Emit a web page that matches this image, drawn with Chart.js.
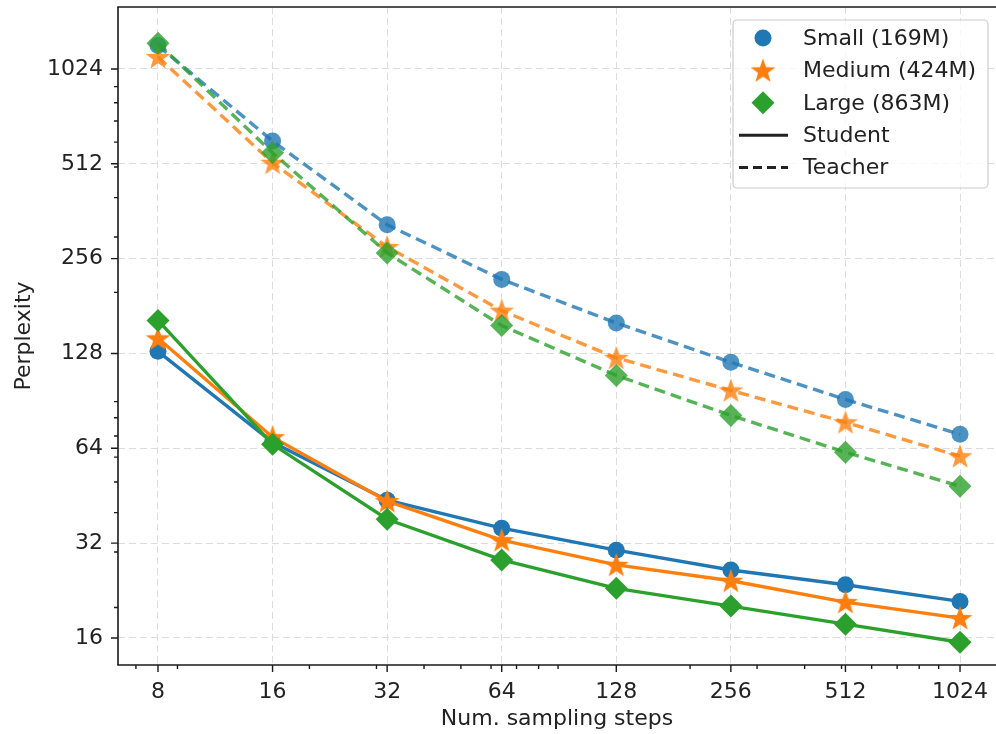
<!DOCTYPE html>
<html>
<head>
<meta charset="utf-8">
<script src="https://cdn.jsdelivr.net/npm/chart.js@4.4.1/dist/chart.umd.min.js"></script>
<style>
  html, body { margin: 0; padding: 0; background: #fff; overflow: hidden; }
  #wrap { width: 996px; height: 734px; position: relative; }
  #wrap canvas { display: block; }
</style>
</head>
<body>
<div id="wrap"><canvas id="perplexityChart"></canvas></div>
<script>
// sampling steps on x, perplexity on y (both log2)
const steps = [8, 16, 32, 64, 128, 256, 512, 1024];
const smallStudent  = [130, 66.9, 43.8, 35.7, 30.4, 26.3, 23.6, 20.9];
const mediumStudent = [143, 69.4, 43.5, 32.7, 27.3, 24.3, 20.8, 18.5];
const largeStudent  = [163, 65.9, 38.1, 28.3, 23.0, 20.2, 17.7, 15.5];
const smallTeacher  = [1215, 605, 328, 220, 160, 120, 91.5, 70.9];
const mediumTeacher = [1118, 516, 279, 175, 124, 97.7, 77.4, 60.4];
const largeTeacher  = [1237, 555, 267, 157, 109, 81.4, 62.2, 48.5];
const yTicks = [16, 32, 64, 128, 256, 512, 1024];
const modelNames = ['Small (169M)', 'Medium (424M)', 'Large (863M)'];
const styleNames = ['Student', 'Teacher'];
const minorSubs = [2, 3, 4, 5, 6, 7, 8, 9];

const FONT = 'DejaVu Sans';
Chart.defaults.font.family = FONT;
Chart.defaults.font.size = 22;
Chart.defaults.color = '#222';

const blue = [31, 119, 180], orange = [255, 127, 14], green = [44, 160, 44];
const rgba = (c, a) => `rgba(${c[0]},${c[1]},${c[2]},${a})`;

// matplotlib-like filled star
const makeStar = (color, r) => {
    const c = document.createElement('canvas');
    const s = Math.ceil(r * 2 + 2);
    c.width = c.height = s;
    const ctx = c.getContext('2d');
    ctx.fillStyle = color;
    ctx.beginPath();
    for (let i = 0; i < 10; i++) {
        const rr = i % 2 ? r * 0.4 : r;
        const a = -Math.PI / 2 + i * Math.PI / 5;
        ctx.lineTo(s / 2 + rr * Math.cos(a), s / 2 + rr * Math.sin(a) + 1);
    }
    ctx.closePath();
    ctx.fill();
    return c;
};

const markers = [
    { style: 'circle', radius: 8.5 },
    { style: null, radius: 13 },
    { style: 'rectRot', radius: 11.5 }
];

const toPoints = (vals) => vals.map((v, i) => ({ x: steps[i], y: v }));

const makeDataset = (vals, color, idx, teacher) => {
    const a = teacher ? 0.8 : 1;
    const m = markers[idx];
    return {
        data: toPoints(vals),
        borderColor: rgba(color, a),
        backgroundColor: rgba(color, a),
        borderWidth: 3.4,
        borderDash: teacher ? [11, 6] : [],
        pointStyle: m.style || makeStar(rgba(color, a), m.radius),
        pointRadius: m.radius,
        pointBorderWidth: 0,
        pointHoverRadius: m.radius,
        order: 2 - idx,
        tension: 0
    };
};

const datasets = [
    makeDataset(smallStudent, blue, 0, false),
    makeDataset(smallTeacher, blue, 0, true),
    makeDataset(mediumStudent, orange, 1, false),
    makeDataset(mediumTeacher, orange, 1, true),
    makeDataset(largeStudent, green, 2, false),
    makeDataset(largeTeacher, green, 2, true)
];

const minorValues = (min, max, majors) => {
    const out = [];
    for (let k = 0; k < 4; k++) {
        minorSubs.forEach(d => {
            const v = d * Math.pow(10, k);
            if (v > min && v < max && !majors.includes(v)) out.push(v);
        });
    }
    return out;
};

const frameAndTicks = {
    id: 'frameAndTicks',
    afterDatasetsDraw(chart) {
        const { ctx, chartArea: ca, scales } = chart;
        const xs = scales.x, ys = scales.y;
        ctx.save();
        ctx.strokeStyle = '#1a1a1a';
        ctx.lineWidth = 1.6;
        ctx.setLineDash([]);
        ctx.beginPath();
        ctx.moveTo(ca.right + 2, ca.top);
        ctx.lineTo(ca.left, ca.top);
        ctx.lineTo(ca.left, ca.bottom);
        ctx.lineTo(ca.right + 2, ca.bottom);
        ctx.stroke();
        ctx.lineWidth = 1.4;
        ctx.beginPath();
        steps.forEach(v => {
            const px = xs.getPixelForValue(v);
            ctx.moveTo(px, ca.bottom); ctx.lineTo(px, ca.bottom + 7);
        });
        minorValues(xs.min, xs.max, steps).forEach(v => {
            const px = xs.getPixelForValue(v);
            ctx.moveTo(px, ca.bottom); ctx.lineTo(px, ca.bottom + 4);
        });
        yTicks.forEach(v => {
            const py = ys.getPixelForValue(v);
            ctx.moveTo(ca.left, py); ctx.lineTo(ca.left - 7, py);
        });
        minorValues(ys.min, ys.max, yTicks).forEach(v => {
            const py = ys.getPixelForValue(v);
            ctx.moveTo(ca.left, py); ctx.lineTo(ca.left - 4, py);
        });
        ctx.stroke();
        ctx.restore();
    }
};

const boxLegend = {
    id: 'boxLegend',
    afterDraw(chart) {
        const { ctx } = chart;
        const bx = 733, by = 20, bw = 255, bh = 168;
        ctx.save();
        ctx.fillStyle = 'rgba(255,255,255,0.8)';
        ctx.strokeStyle = '#cccccc';
        ctx.lineWidth = 1.2;
        ctx.beginPath();
        ctx.roundRect(bx, by, bw, bh, 4);
        ctx.fill();
        ctx.stroke();

        const rowY = (i) => by + 18 + i * 32.4;
        const cols = [blue, orange, green];
        ctx.font = `22px "${FONT}"`;
        ctx.textBaseline = 'middle';
        ctx.textAlign = 'left';
        modelNames.forEach((name, i) => {
            const cx = 763, cy = rowY(i);
            ctx.fillStyle = rgba(cols[i], 1);
            if (i === 0) {
                ctx.beginPath(); ctx.arc(cx, cy, 8.5, 0, Math.PI * 2); ctx.fill();
            } else if (i === 1) {
                const s = makeStar(rgba(cols[i], 1), 13);
                ctx.drawImage(s, cx - s.width / 2, cy - s.height / 2);
            } else {
                ctx.beginPath();
                ctx.moveTo(cx - 11.5, cy); ctx.lineTo(cx, cy - 11.5);
                ctx.lineTo(cx + 11.5, cy); ctx.lineTo(cx, cy + 11.5);
                ctx.closePath(); ctx.fill();
            }
            ctx.fillStyle = '#222';
            ctx.fillText(name, 803, cy + 1);
        });
        styleNames.forEach((name, j) => {
            const cy = rowY(3 + j);
            ctx.strokeStyle = '#222';
            ctx.lineWidth = 3;
            ctx.setLineDash(j ? [9, 5] : []);
            ctx.beginPath(); ctx.moveTo(739, cy); ctx.lineTo(788, cy); ctx.stroke();
            ctx.setLineDash([]);
            ctx.fillStyle = '#222';
            ctx.fillText(name, 803, cy + 1);
        });
        ctx.restore();
    }
};

const perplexityChart = new Chart(document.getElementById('perplexityChart').getContext('2d'), {
    type: 'line',
    data: { datasets },
    plugins: [frameAndTicks, boxLegend],
    options: {
        responsive: true,
        maintainAspectRatio: false,
        animation: false,
        layout: { autoPadding: false, padding: { top: 7, right: 0, left: 0, bottom: 0 } },
        plugins: {
            legend: { display: false },
            tooltip: { enabled: false }
        },
        scales: {
            x: {
                type: 'logarithmic',
                min: 6.281,
                max: 1273,
                afterBuildTicks: (scale) => { scale.ticks = steps.map(v => ({ value: v })); },
                afterFit: (scale) => {
                    scale.height = 69;
                    scale.paddingLeft = 0;
                    scale.paddingRight = 0;
                },
                ticks: {
                    autoSkip: false,
                    maxRotation: 0,
                    padding: 14,
                    callback: (v) => String(v)
                },
                grid: { color: '#dcdcdc', lineWidth: 1, drawTicks: false },
                border: { display: false, dash: [7, 4] },
                title: { display: true, text: 'Num. sampling steps', padding: { top: 0, bottom: 2 } }
            },
            y: {
                type: 'logarithmic',
                min: 13.13,
                max: 1611,
                afterBuildTicks: (scale) => { scale.ticks = yTicks.map(v => ({ value: v })); },
                afterFit: (scale) => {
                    scale.width = 118;
                    scale.paddingTop = 0;
                    scale.paddingBottom = 0;
                },
                ticks: {
                    autoSkip: false,
                    padding: 15,
                    callback: (v) => String(v)
                },
                grid: { color: '#dcdcdc', lineWidth: 1, drawTicks: false },
                border: { display: false, dash: [7, 4] },
                title: { display: true, text: 'Perplexity', padding: { top: 11, bottom: 0 } }
            }
        }
    }
});
</script>
</body>
</html>
